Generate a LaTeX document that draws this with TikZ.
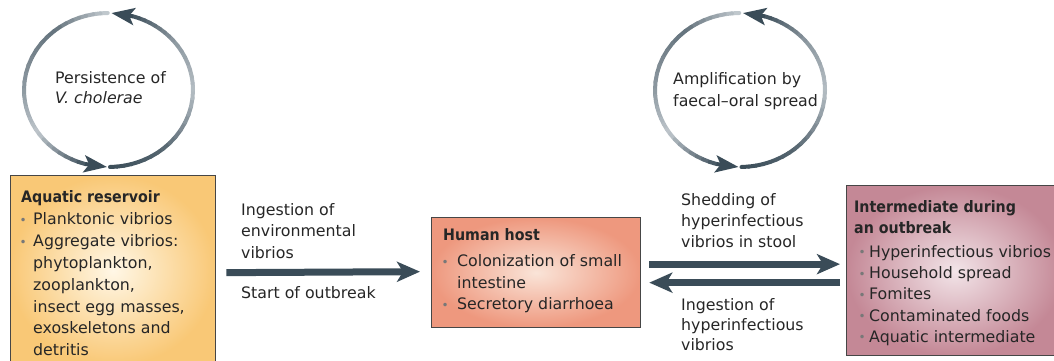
\documentclass[tikz,border=0pt]{standalone}
\usepackage{fontspec}
\setmainfont{DejaVu Sans}
\newfontfamily\headfont{DejaVu Sans Condensed}
\usetikzlibrary{arrows.meta,calc}
\definecolor{arrowc}{RGB}{58,76,88}
\definecolor{arclight}{RGB}{222,227,231}
\definecolor{txt}{RGB}{38,38,38}
\definecolor{bgray}{RGB}{120,120,120}
\definecolor{boxline}{RGB}{70,70,70}
\definecolor{aqout}{RGB}{249,200,118}
\definecolor{aqin}{RGB}{255,247,230}
\definecolor{hhout}{RGB}{238,152,126}
\definecolor{hhin}{RGB}{250,228,216}
\definecolor{imout}{RGB}{196,136,150}
\definecolor{imin}{RGB}{242,228,232}
\newcommand{\hd}[1]{{\headfont\bfseries #1}}
\newcommand{\bitem}[3]{\par\hangindent=#2\hangafter=1\noindent\makebox[#2][l]{\hspace*{#1}\makebox[0pt]{\raisebox{0.6pt}{\textcolor{bgray}{\fontsize{12}{12}\selectfont\textbullet}}}}#3}
\newcommand{\tb}[3]{\parbox[t]{#1}{\raggedright\fontsize{15.8}{#2}\selectfont #3}}
% arc piece: cx cy rx ry a1 a2 d1 d2
\newcommand{\arcpiece}[8]{%
  \foreach \i in {1,...,8}{%
    \pgfmathsetmacro\ta{#5+(#6-#5)*(\i-1)/8}%
    \pgfmathsetmacro\tbb{#5+(#6-#5)*\i/8}%
    \pgfmathtruncatemacro\dd{#7+(#8-#7)*(\i-0.5)/8}%
    \draw[arcline, draw=arrowc!\dd!arclight] ({#1+#3*cos(\ta)},{#2-#4*sin(\ta)}) -- ({#1+#3*cos(\tbb)},{#2-#4*sin(\tbb)});
  }}
\newcommand{\ring}[4]{%
  \arcpiece{#1}{#2}{#3}{#4}{-89}{-50}{100}{85}
  \arcpiece{#1}{#2}{#3}{#4}{-50}{0}{85}{25}
  \arcpiece{#1}{#2}{#3}{#4}{0}{40}{25}{50}
  \arcpiece{#1}{#2}{#3}{#4}{40}{73}{50}{95}
  \draw[arcline, line cap=butt, draw=arrowc, -{Stealth[length=23pt,width=17pt,inset=5pt]}] ({#1+#3*cos(73)},{#2-#4*sin(73)}) -- ({#1+#3*cos(88)},{#2-#4*sin(88)});
  \arcpiece{#1}{#2}{#3}{#4}{90.5}{130}{15}{75}
  \arcpiece{#1}{#2}{#3}{#4}{130}{180}{75}{50}
  \arcpiece{#1}{#2}{#3}{#4}{180}{215}{50}{20}
  \arcpiece{#1}{#2}{#3}{#4}{215}{254}{20}{95}
  \draw[arcline, line cap=butt, draw=arrowc, -{Stealth[length=23pt,width=17pt,inset=5pt]}] ({#1+#3*cos(254)},{#2-#4*sin(254)}) -- ({#1+#3*cos(269)},{#2-#4*sin(269)});
}
\begin{document}
\begin{tikzpicture}[x=1pt,y=-1pt,
  box/.style={draw=boxline, line width=1.3pt, anchor=north west, inner sep=0pt},
  lbl/.style={anchor=base west, inner sep=0pt, text=txt},
  bigarrow/.style={draw=arrowc, line width=7pt, -{Stealth[length=23pt,width=20pt,inset=6pt]}},
  arcline/.style={line width=4pt, line cap=round},
]
\useasboundingbox (0,0) rectangle (1054,361);
\clip (0,0) rectangle (1054,361);

% cycles
\ring{108.5}{90}{84.5}{77}
\ring{740}{90}{85}{77}
\node[lbl] (persist) at (55,83) {\tb{130pt}{20.5pt}{Persistence of\\\textit{V. cholerae}}};
\node[lbl] (amplif) at (673,84) {\tb{160pt}{22pt}{Amplification by\\faecal–oral spread}};

% boxes
\node[box, inner color=aqin, outer color=aqout, minimum width=205.5pt, minimum height=190pt] (aq) at (9.5,175) {};
\node[box, inner color=hhin, outer color=hhout, minimum width=209pt, minimum height=110pt] (hh) at (431,217) {};
\node[box, inner color=imin, outer color=imout, minimum width=216pt, minimum height=170pt] (im) at (846,185) {};

\node[lbl] (aqt) at (21,202) {\tb{190pt}{21.8pt}{\hd{Aquatic reservoir}\par\vspace{1pt}
\bitem{2pt}{12pt}{Planktonic vibrios}
\bitem{2pt}{12pt}{Aggregate vibrios:\newline phytoplankton,\newline zooplankton,\newline insect egg masses,\newline exoskeletons and\newline detritis}}};

\node[lbl] (hht) at (443,240) {\tb{190pt}{21.6pt}{\hd{Human host}\par\vspace{5pt}
\bitem{2pt}{14pt}{Colonization of small\newline intestine}
\bitem{2pt}{14pt}{Secretory diarrhoea}}};

\node[lbl] (imt) at (854,212) {\tb{205pt}{21.2pt}{\hd{Intermediate during\\an outbreak}\par\vspace{3pt}
\bitem{8pt}{15pt}{Hyperinfectious vibrios}
\bitem{8pt}{15pt}{Household spread}
\bitem{8pt}{15pt}{Fomites}
\bitem{8pt}{15pt}{Contaminated foods}
\bitem{8pt}{15pt}{Aquatic intermediate}}};

% arrows
\draw[bigarrow] ($(aq.east)+(10,2)$) -- ($(hh.west)+(-11,-1)$);
\draw[bigarrow] ($(hh.east)+(8,-8.5)$) -- ($(im.west)+(-6,-6.5)$);
\draw[bigarrow] ($(im.west)+(-6,12)$) -- ($(hh.east)+(8,10)$);

% arrow labels
\node[lbl] (ingA) at (241,215) {\tb{150pt}{21.5pt}{Ingestion of\\environmental\\vibrios}};
\node[lbl] (start) at (241,298) {\tb{150pt}{21.5pt}{Start of outbreak}};
\node[lbl] (shed) at (681,205) {\tb{150pt}{21pt}{Shedding of\\hyperinfectious\\vibrios in stool}};
\node[lbl] (ingB) at (681,310) {\tb{150pt}{20pt}{Ingestion of\\hyperinfectious\\vibrios}};
\end{tikzpicture}
\end{document}
